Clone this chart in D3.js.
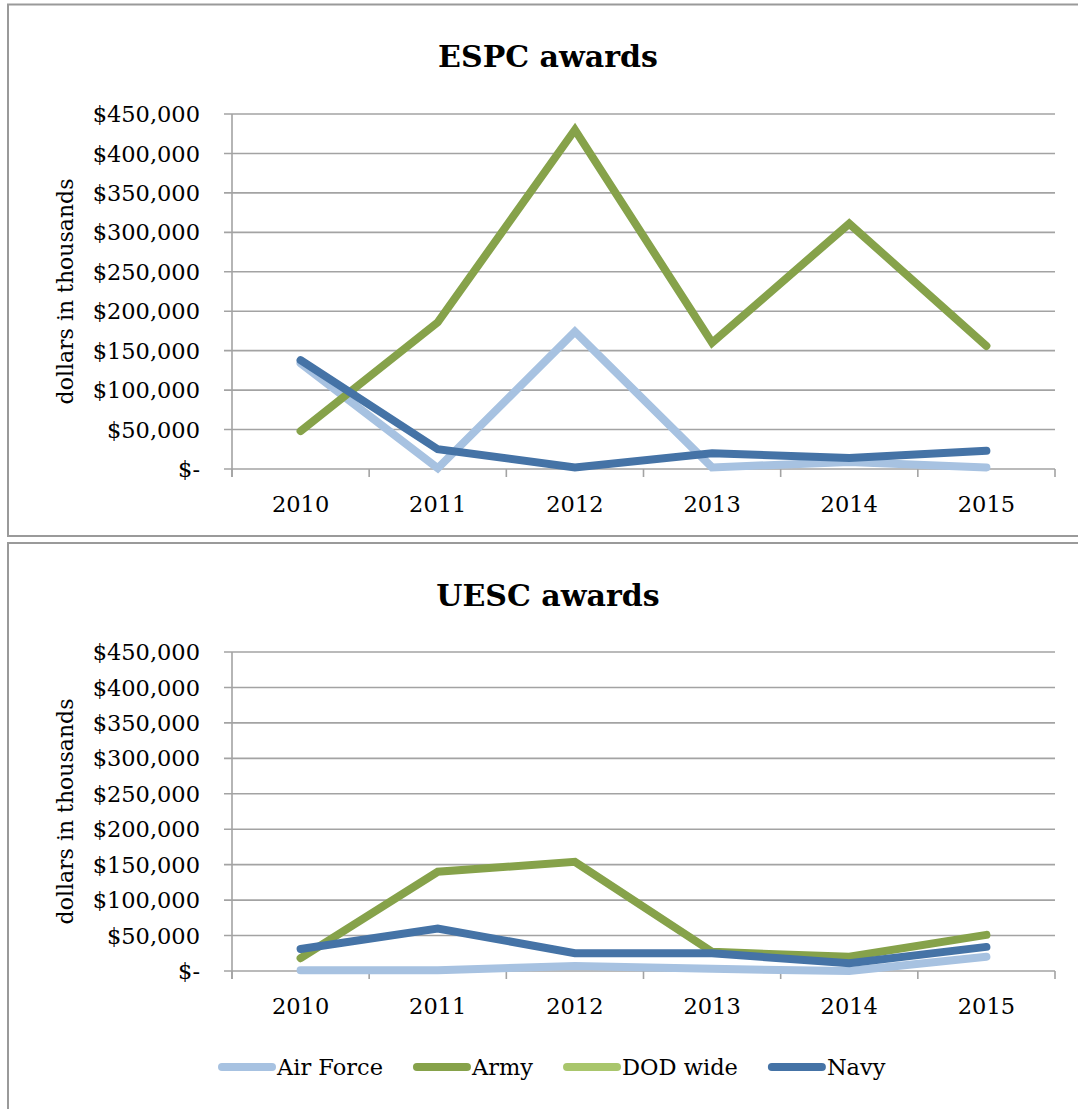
<!DOCTYPE html>
<html>
<head>
<meta charset="utf-8">
<script src="https://cdn.jsdelivr.net/npm/d3@7"></script>
<style>
  body { margin: 0; background: #fff; }
  text { font-family: "DejaVu Serif", serif; fill: #000; }
</style>
</head>
<body>
<script>
const width = 1078;
const height = 1109;

// data (thousands of dollars)
const years = ["2010", "2011", "2012", "2013", "2014", "2015"];
const seriesNames = ["Air Force", "Army", "DOD wide", "Navy"];
const seriesColors = ["#a7c2e1", "#86a24a", "#a9c66c", "#4573a6"];
const yTicks = [0, 50000, 100000, 150000, 200000, 250000, 300000, 350000, 400000, 450000];

const espcAirForce = [134000, 1000, 174000, 2000, 9000, 2000];
const espcArmy = [48000, 186000, 430000, 160000, 311000, 156000];
const espcDod = [null, null, null, null, null, null];
const espcNavy = [138000, 25000, 2000, 20000, 14000, 23000];

const uescAirForce = [1000, 1000, 7000, 3000, 0, 20000];
const uescArmy = [18000, 140000, 154000, 27000, 20000, 51000];
const uescDod = [null, null, null, null, null, null];
const uescNavy = [31000, 60000, 25000, 25000, 11000, 34000];

const svg = d3.select("body")
  .append("svg")
  .attr("width", width)
  .attr("height", height);

// chart frames
svg.append("rect")
  .attr("x", 8).attr("y", 4.5).attr("width", 1090).attr("height", 531.5)
  .attr("fill", "none").attr("stroke", "#9a9a9a").attr("stroke-width", 2);
svg.append("rect")
  .attr("x", 8).attr("y", 543).attr("width", 1090).attr("height", 600)
  .attr("fill", "none").attr("stroke", "#9a9a9a").attr("stroke-width", 2);

const fmt = (v) => (v === 0 ? "$-" : "$" + d3.format(",")(v));

function drawChart(opts) {
  const { title, titleY, top, bottom, series } = opts;
  const left = 232;
  const right = 1055;
  const g = svg.append("g");

  const x = d3.scaleBand().domain(years).range([left, right]);
  const y = d3.scaleLinear().domain([0, 450000]).range([bottom, top]);

  g.append("text")
    .attr("x", 548).attr("y", titleY)
    .attr("text-anchor", "middle")
    .style("font-size", "30px").style("font-weight", "bold")
    .text(title);

  // gridlines
  g.append("g").selectAll("line")
    .data(yTicks)
    .join("line")
    .attr("x1", left - 8).attr("x2", right)
    .attr("y1", (d) => y(d)).attr("y2", (d) => y(d))
    .attr("stroke", "#a3a3a3").attr("stroke-width", 1.6);

  // y axis line
  g.append("line")
    .attr("x1", left).attr("x2", left)
    .attr("y1", top).attr("y2", bottom + 8)
    .attr("stroke", "#a3a3a3").attr("stroke-width", 1.6);

  // y tick labels
  g.append("g").selectAll("text")
    .data(yTicks)
    .join("text")
    .attr("x", 200)
    .attr("y", (d) => y(d))
    .attr("dy", "0.36em")
    .attr("text-anchor", "end")
    .style("font-size", "22.5px")
    .text(fmt);

  // y axis title
  g.append("text")
    .attr("transform", `translate(73,${(top + bottom) / 2}) rotate(-90)`)
    .attr("text-anchor", "middle")
    .style("font-size", "22px")
    .text("dollars in thousands");

  // x tick marks on category boundaries
  const bounds = years.map((d) => x(d)).concat([right]);
  g.append("g").selectAll("line")
    .data(bounds)
    .join("line")
    .attr("x1", (d) => d).attr("x2", (d) => d)
    .attr("y1", bottom).attr("y2", bottom + 8)
    .attr("stroke", "#a3a3a3").attr("stroke-width", 1.6);

  // x labels
  g.append("g").selectAll("text")
    .data(years)
    .join("text")
    .attr("x", (d) => x(d) + x.bandwidth() / 2)
    .attr("y", bottom + 43)
    .attr("text-anchor", "middle")
    .style("font-size", "22.5px")
    .text((d) => d);

  const line = d3.line()
    .defined((d) => d !== null)
    .x((d, i) => x(years[i]) + x.bandwidth() / 2)
    .y((d) => y(d));

  g.append("g").selectAll("path")
    .data(series)
    .join("path")
    .attr("d", (d) => line(d))
    .attr("fill", "none")
    .attr("stroke", (d, i) => seriesColors[i])
    .attr("stroke-width", 8)
    .attr("stroke-linecap", "round")
    .attr("stroke-linejoin", "miter");
}

drawChart({
  title: "ESPC awards",
  titleY: 67,
  top: 114,
  bottom: 469,
  series: [espcAirForce, espcArmy, espcDod, espcNavy],
});

drawChart({
  title: "UESC awards",
  titleY: 606,
  top: 652,
  bottom: 971,
  series: [uescAirForce, uescArmy, uescDod, uescNavy],
});

// legend
const legend = svg.append("g");
let lx = 218;
const ly = 1067;
seriesNames.forEach((name, i) => {
  legend.append("line")
    .attr("x1", lx + 4).attr("x2", lx + 54)
    .attr("y1", ly).attr("y2", ly)
    .attr("stroke", seriesColors[i])
    .attr("stroke-width", 8)
    .attr("stroke-linecap", "round");
  const t = legend.append("text")
    .attr("x", lx + 59)
    .attr("y", ly + 8)
    .style("font-size", "22.5px")
    .text(name);
  lx += 59 + t.node().getComputedTextLength() + 30;
});
</script>
</body>
</html>
